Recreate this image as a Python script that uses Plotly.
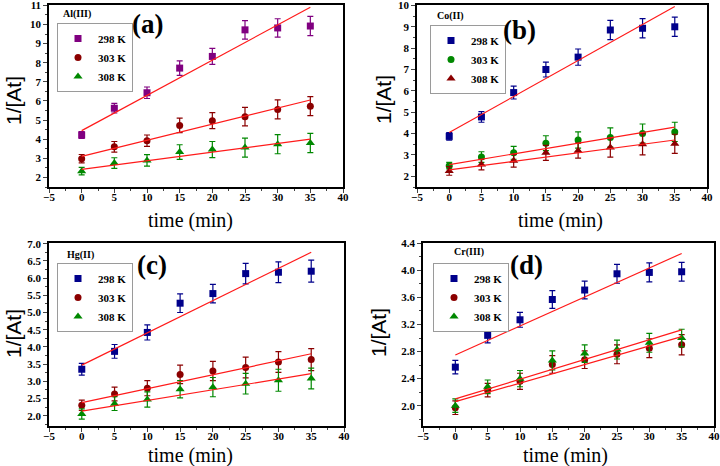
import plotly.graph_objects as go

W, H = 720, 466

time_min = [0, 5, 10, 15, 20, 25, 30, 35]
temps = ["298 K", "303 K", "308 K"]

# Panel (a) Al(III)
al_298 = [4.22, 5.62, 6.43, 7.72, 8.33, 9.72, 9.82, 9.92]
al_303 = [2.98, 3.6, 3.92, 4.72, 4.97, 5.18, 5.56, 5.73]
al_308 = [2.33, 2.75, 2.89, 3.33, 3.46, 3.56, 3.74, 3.8]
al_298_err = [0.18, 0.25, 0.3, 0.38, 0.42, 0.48, 0.48, 0.5]
al_303_err = [0.22, 0.28, 0.3, 0.38, 0.42, 0.48, 0.5, 0.5]
al_308_err = [0.2, 0.28, 0.3, 0.38, 0.42, 0.5, 0.5, 0.5]
al_fit_start = [4.45, 3.1, 2.42]
al_fit_end = [10.9, 6.05, 4.0]

# Panel (b) Co(II)
co_298 = [3.87, 4.78, 5.92, 7.0, 7.58, 8.85, 8.93, 9.0]
co_303 = [2.5, 2.9, 3.1, 3.55, 3.7, 3.82, 4.0, 4.08]
co_308 = [2.25, 2.55, 2.73, 3.1, 3.2, 3.35, 3.5, 3.52]
co_298_err = [0.18, 0.25, 0.3, 0.35, 0.38, 0.45, 0.45, 0.45]
co_303_err = [0.15, 0.25, 0.3, 0.35, 0.38, 0.45, 0.45, 0.45]
co_308_err = [0.2, 0.25, 0.3, 0.35, 0.35, 0.45, 0.5, 0.45]
co_fit_start = [4.05, 2.55, 2.3]
co_fit_end = [9.95, 4.3, 3.7]

# Panel (c) Hg(II)
hg_298 = [3.35, 3.87, 4.42, 5.27, 5.55, 6.13, 6.17, 6.2]
hg_303 = [2.3, 2.63, 2.8, 3.2, 3.3, 3.4, 3.56, 3.63]
hg_308 = [2.05, 2.35, 2.47, 2.77, 2.83, 2.93, 3.03, 3.08]
hg_298_err = [0.17, 0.2, 0.22, 0.27, 0.27, 0.3, 0.3, 0.32]
hg_303_err = [0.15, 0.2, 0.22, 0.27, 0.28, 0.3, 0.3, 0.32]
hg_308_err = [0.15, 0.2, 0.22, 0.25, 0.28, 0.3, 0.32, 0.3]
hg_fit_start = [3.47, 2.38, 2.13]
hg_fit_end = [6.75, 3.8, 3.22]

# Panel (d) Cr(III)
cr_298 = [2.57, 3.04, 3.27, 3.57, 3.71, 3.95, 3.97, 3.98]
cr_303 = [1.97, 2.23, 2.36, 2.61, 2.68, 2.76, 2.85, 2.9]
cr_308 = [2.0, 2.28, 2.4, 2.67, 2.77, 2.83, 2.93, 3.0]
cr_298_err = [0.1, 0.11, 0.11, 0.13, 0.13, 0.14, 0.14, 0.14]
cr_303_err = [0.1, 0.1, 0.12, 0.13, 0.13, 0.14, 0.14, 0.15]
cr_308_err = [0.1, 0.1, 0.12, 0.14, 0.13, 0.14, 0.14, 0.13]
cr_fit_start = [2.75, 2.06, 2.1]
cr_fit_end = [4.25, 3.02, 3.12]

fit_t = [0, 35]

PURPLE = "#800080"
DRED = "#8B0000"
GREEN = "#008800"
NAVY = "#00008B"
RED = "#FF1A1A"

SERIF = "Liberation Serif, Times New Roman, serif"
SANS = "Liberation Sans, Arial, sans-serif"

panels = [
    dict(tag="(a)", metal="Al(III)", ys=[al_298, al_303, al_308],
         errs=[al_298_err, al_303_err, al_308_err],
         fs=al_fit_start, fe=al_fit_end,
         colors=[PURPLE, DRED, GREEN], symbols=["square", "circle", "triangle-up"],
         xd=(49, 343), yd=(5, 187), yr=[1.5, 11.02], dt=1, mdt=0.5, fmt="d"),
    dict(tag="(b)", metal="Co(II)", ys=[co_298, co_303, co_308],
         errs=[co_298_err, co_303_err, co_308_err],
         fs=co_fit_start, fe=co_fit_end,
         colors=[NAVY, GREEN, DRED], symbols=["square", "circle", "triangle-up"],
         xd=(417, 707), yd=(5, 187), yr=[1.5, 10.02], dt=1, mdt=0.5, fmt="d"),
    dict(tag="(c)", metal="Hg(II)", ys=[hg_298, hg_303, hg_308],
         errs=[hg_298_err, hg_303_err, hg_308_err],
         fs=hg_fit_start, fe=hg_fit_end,
         colors=[NAVY, DRED, GREEN], symbols=["square", "circle", "triangle-up"],
         xd=(49, 344), yd=(243, 426), yr=[1.7, 7.02], dt=0.5, mdt=0.25, fmt=".1f"),
    dict(tag="(d)", metal="Cr(III)", ys=[cr_298, cr_303, cr_308],
         errs=[cr_298_err, cr_303_err, cr_308_err],
         fs=cr_fit_start, fe=cr_fit_end,
         colors=[NAVY, DRED, GREEN], symbols=["square", "circle", "triangle-up"],
         xd=(423, 714), yd=(243, 426), yr=[1.7, 4.405], dt=0.4, mdt=0.2, fmt=".1f"),
]

# layout positions (pixels) for annotations/legends
legend_pos = [(57, 23), (430, 25), (57, 263), (433, 263)]
metal_pos = [(77, 14), (450, 16), (80, 255), (469, 252)]
tag_pos = [(147, 24), (519, 30), (152, 265), (526, 265)]
ylab_pos = [(13, 100), (383, 100), (13, 333), (378, 333)]
xlab_pos = [(190, 220), (560, 220), (190, 455), (565, 455)]


def px(x):
    return x / W


def py(y):
    return 1 - y / H


fig = go.Figure()
layout = dict(
    width=W, height=H, margin=dict(l=0, r=0, t=0, b=0, autoexpand=False),
    paper_bgcolor="white", plot_bgcolor="white", showlegend=True,
    annotations=[],
)


def ann(x, y, text, font, angle=0):
    return dict(x=px(x), y=py(y), xref="paper", yref="paper", text=text,
                xanchor="center", yanchor="middle", textangle=angle,
                showarrow=False, font=font)


for i, p in enumerate(panels):
    n = "" if i == 0 else str(i + 1)
    xa, ya = "x" + n, "y" + n
    leg = "legend" + n
    for j in range(3):
        c = p["colors"][j]
        fig.add_trace(go.Scatter(
            x=time_min, y=p["ys"][j], mode="markers", name=temps[j],
            xaxis=xa, yaxis=ya, legend=leg,
            marker=dict(symbol=p["symbols"][j], size=7 if j < 2 else 8, color=c),
            error_y=dict(type="data", array=p["errs"][j], visible=True,
                         color=c, thickness=1.2, width=3),
        ))
    for j in range(3):
        fig.add_trace(go.Scatter(
            x=fit_t, y=[p["fs"][j], p["fe"][j]], mode="lines",
            line=dict(color=RED, width=1.2), showlegend=False,
            xaxis=xa, yaxis=ya, hoverinfo="skip",
        ))
    tickfont = dict(family=SERIF, size=11, color="black", weight="bold")
    layout["xaxis" + n] = dict(
        domain=[px(p["xd"][0]), px(p["xd"][1])], range=[-5, 40],
        anchor=ya, tick0=-5, dtick=5, ticks="outside", ticklen=4, tickwidth=1.2,
        minor=dict(ticks="outside", ticklen=2, dtick=2.5, tickwidth=1),
        showline=True, linecolor="black", linewidth=1.5, mirror=True,
        showgrid=False, zeroline=False, tickfont=tickfont,
        ticklabeloverflow="allow", ticklabelstandoff=-5,
    )
    layout["yaxis" + n] = dict(
        domain=[py(p["yd"][1]), py(p["yd"][0])], range=p["yr"],
        anchor=xa, tick0=2, dtick=p["dt"], ticks="outside", ticklen=4, tickwidth=1.2,
        minor=dict(ticks="outside", ticklen=2, dtick=p["mdt"], tickwidth=1),
        showline=True, linecolor="black", linewidth=1.5, mirror=True,
        showgrid=False, zeroline=False, tickfont=tickfont, tickformat=p["fmt"],
        ticklabeloverflow="allow",
    )
    lx, ly = legend_pos[i]
    layout[leg] = dict(
        x=px(lx), y=py(ly), xanchor="left", yanchor="top",
        bgcolor="white", bordercolor="#9a9a9a", borderwidth=1,
        font=dict(family=SERIF, size=11, color="black", weight="bold"),
        itemwidth=30, tracegroupgap=0,
    )
    mx, my = metal_pos[i]
    layout["annotations"].append(ann(mx, my, p["metal"],
                                     dict(family=SERIF, size=10, color="black", weight="bold")))
    tx, ty = tag_pos[i]
    layout["annotations"].append(ann(tx, ty, p["tag"],
                                     dict(family=SERIF, size=27, color="black", weight="bold")))
    yx, yy = ylab_pos[i]
    layout["annotations"].append(ann(yx, yy, "1/[At]",
                                     dict(family=SANS, size=21, color="black"), angle=-90))
    xx, xy = xlab_pos[i]
    layout["annotations"].append(ann(xx, xy, "time (min)",
                                     dict(family=SERIF, size=20, color="black")))

fig.update_layout(**layout)
fig.write_html("out.html", config={"displayModeBar": False},
               post_script="document.body.style.margin='0';document.body.style.overflow='hidden';")
